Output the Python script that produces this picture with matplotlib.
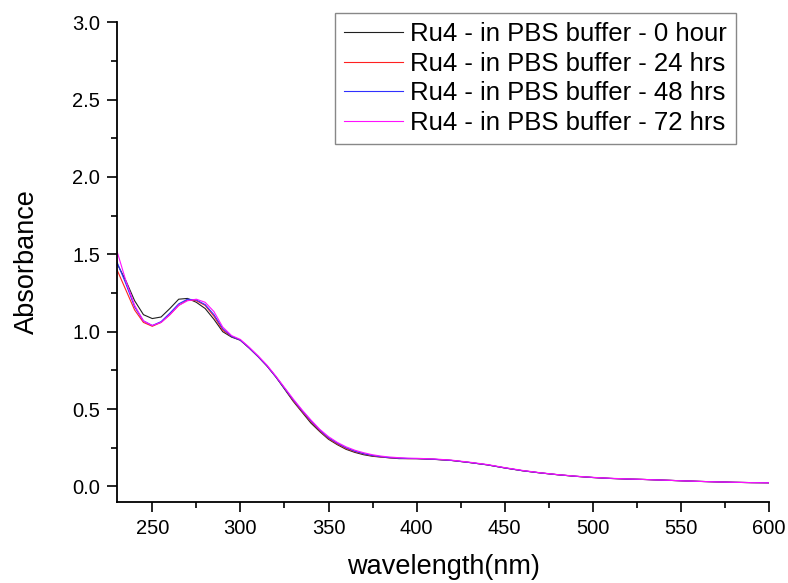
import matplotlib
matplotlib.use("Agg")
import matplotlib.pyplot as plt
from matplotlib.ticker import MultipleLocator

wavelength = [230, 235, 240, 245, 250, 255, 260, 265, 270, 275, 280, 285, 290, 295,
              300, 305, 310, 315, 320, 325, 330, 335, 340, 345, 350, 355, 360, 365,
              370, 375, 380, 385, 390, 395, 400, 410, 420, 430, 440, 450, 460, 470,
              480, 490, 500, 510, 520, 530, 540, 550, 560, 570, 580, 590, 600]

abs_0h = [1.44, 1.33, 1.20, 1.11, 1.085, 1.095, 1.15, 1.21, 1.215, 1.19, 1.15, 1.08, 1.00, 0.965,
          0.945, 0.895, 0.84, 0.78, 0.71, 0.63, 0.55, 0.48, 0.41, 0.355, 0.305, 0.27, 0.24, 0.22,
          0.205, 0.195, 0.19, 0.185, 0.18, 0.18, 0.18, 0.175, 0.168, 0.155, 0.14, 0.12, 0.102, 0.088,
          0.076, 0.066, 0.058, 0.052, 0.048, 0.045, 0.041, 0.037, 0.033, 0.030, 0.027, 0.025, 0.024]

abs_24h = [1.40, 1.27, 1.14, 1.06, 1.035, 1.06, 1.11, 1.17, 1.205, 1.20, 1.17, 1.10, 1.01, 0.97,
           0.945, 0.895, 0.84, 0.78, 0.71, 0.635, 0.555, 0.485, 0.42, 0.36, 0.31, 0.275, 0.245, 0.225,
           0.21, 0.198, 0.19, 0.185, 0.182, 0.18, 0.18, 0.176, 0.168, 0.155, 0.14, 0.12, 0.102, 0.088,
           0.076, 0.066, 0.058, 0.052, 0.048, 0.045, 0.041, 0.037, 0.033, 0.030, 0.027, 0.025, 0.024]

abs_48h = [1.45, 1.31, 1.16, 1.07, 1.04, 1.065, 1.12, 1.18, 1.21, 1.205, 1.175, 1.11, 1.02, 0.97,
           0.945, 0.895, 0.84, 0.78, 0.71, 0.635, 0.56, 0.49, 0.425, 0.365, 0.315, 0.28, 0.25, 0.228,
           0.212, 0.2, 0.192, 0.186, 0.183, 0.181, 0.18, 0.176, 0.168, 0.155, 0.14, 0.12, 0.102, 0.088,
           0.076, 0.066, 0.058, 0.052, 0.048, 0.045, 0.041, 0.037, 0.033, 0.030, 0.027, 0.025, 0.024]

abs_72h = [1.52, 1.33, 1.17, 1.07, 1.04, 1.06, 1.11, 1.17, 1.20, 1.21, 1.19, 1.13, 1.03, 0.975,
           0.95, 0.9, 0.845, 0.785, 0.715, 0.64, 0.565, 0.495, 0.43, 0.37, 0.322, 0.285, 0.256, 0.234,
           0.218, 0.205, 0.196, 0.19, 0.186, 0.183, 0.182, 0.178, 0.17, 0.157, 0.142, 0.122, 0.104, 0.089,
           0.077, 0.067, 0.059, 0.053, 0.049, 0.045, 0.041, 0.037, 0.033, 0.030, 0.027, 0.025, 0.024]

labels = ["Ru4 - in PBS buffer - 0 hour", "Ru4 - in PBS buffer - 24 hrs",
          "Ru4 - in PBS buffer - 48 hrs", "Ru4 - in PBS buffer - 72 hrs"]
colors = ["#202020", "#ff2020", "#3030ff", "#ff10ff"]

plt.rcParams["font.family"] = ["Liberation Sans", "DejaVu Sans"]

fig = plt.figure(figsize=(7.88, 5.83), dpi=100)
ax = fig.add_axes([0.1485, 0.139, 0.8275, 0.823])

for y, c, lab in zip([abs_0h, abs_24h, abs_48h, abs_72h], colors, labels):
    ax.plot(wavelength, y, color=c, lw=0.8, label=lab)

ax.set_xlim(230, 600)
ax.set_ylim(-0.1, 3.0)
ax.xaxis.set_major_locator(MultipleLocator(50))
ax.xaxis.set_minor_locator(MultipleLocator(25))
ax.yaxis.set_minor_locator(MultipleLocator(0.25))
ax.set_yticks([0, 0.5, 1.0, 1.5, 2.0, 2.5, 3.0])
ax.set_yticklabels(["0.0", "0.5", "1.0", "1.5", "2.0", "2.5", "3.0"])

for s in ["top", "right"]:
    ax.spines[s].set_visible(False)
for s in ["left", "bottom"]:
    ax.spines[s].set_linewidth(1.3)

ax.tick_params(which="major", direction="out", length=7, width=1.2, labelsize=14.5, pad=5)
ax.tick_params(which="minor", direction="out", length=4, width=1.2)

ax.set_xlabel("wavelength(nm)", fontsize=19.5, labelpad=12)
ax.set_ylabel("Absorbance", fontsize=19.5, labelpad=23)

leg = ax.legend(loc="upper right", bbox_to_anchor=(736 / 788, 1 - 13 / 583),
                bbox_transform=fig.transFigure, borderaxespad=0, fontsize=18.5,
                handlelength=2.3, handletextpad=0.28, labelspacing=0.22,
                borderpad=0.35, fancybox=False, framealpha=1)
leg.get_frame().set_edgecolor("#888888")
leg.get_frame().set_linewidth(1.0)

fig.savefig("out.png", dpi=100)
